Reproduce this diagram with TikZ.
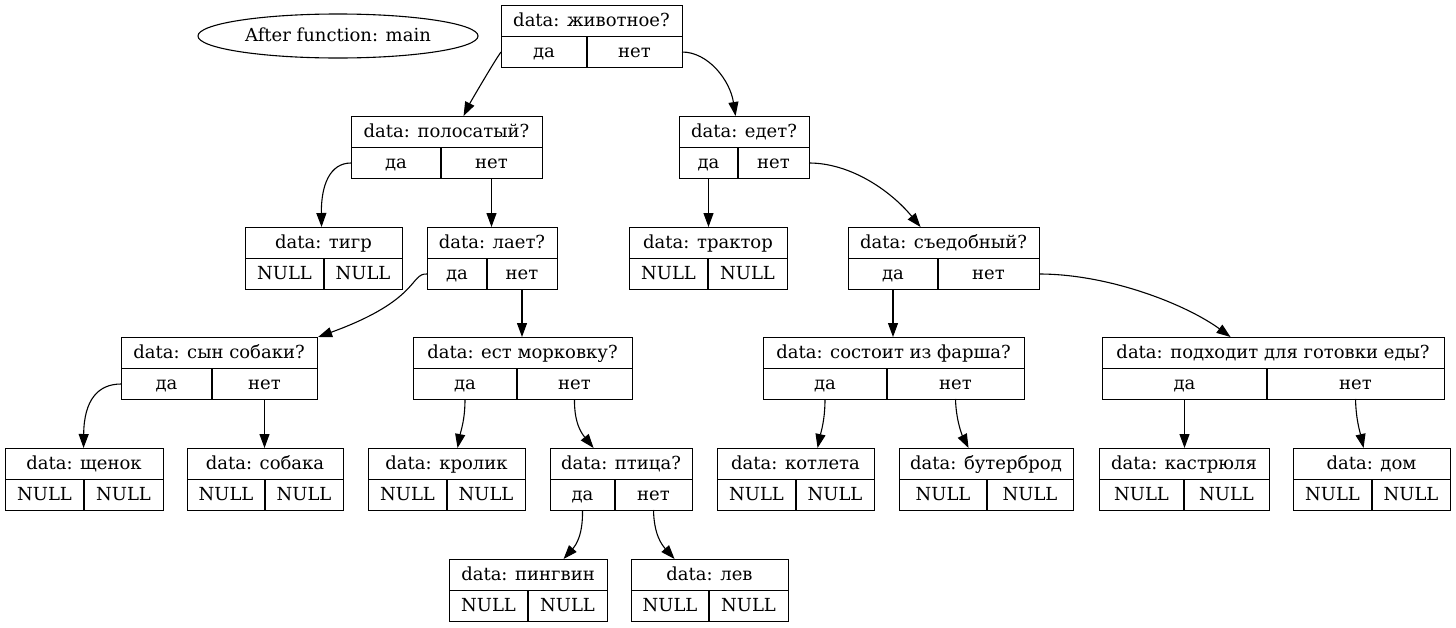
\documentclass[tikz,border=0pt]{standalone}
\usepackage{fontspec}
\setmainfont{DejaVu Serif}
\usetikzlibrary{arrows.meta,shapes.geometric}
\tikzset{
  recbox/.style={draw, line width=1.1pt, inner sep=0pt, anchor=north west},
  recline/.style={line width=1.1pt},
  txt/.style={inner sep=0pt, anchor=base, font=\fontsize{18}{22}\selectfont},
  edge/.style={line width=1.1pt, -{Triangle[length=14pt,width=10pt]}},
  oval/.style={draw, ellipse, line width=1.1pt, minimum width=280pt, minimum height=44pt, inner sep=0pt},
}
% name, x1, y1, x2, splitx, top, left, right
\newcommand\rec[8]{%
  \pgfmathsetmacro\rw{#4-#2}%
  \pgfmathsetmacro\cx{(#2+#4)/2}%
  \pgfmathsetmacro\lx{(#2+#5)/2}%
  \pgfmathsetmacro\rx{(#5+#4)/2}%
  \node[recbox, minimum width=\rw pt, minimum height=62pt] (#1) at (#2,#3) {};
  \draw[recline] (#1.west) -- (#1.east);
  \draw[recline] (#5,#3+31) -- (#5,#3+62);
  \node[txt] (#1-t) at (\cx,#3+21) {#6};
  \node[txt] (#1-a) at (\lx,#3+52) {#7};
  \node[txt] (#1-b) at (\rx,#3+52) {#8};
  \coordinate (#1-w) at (#2,#3+47);
  \coordinate (#1-e) at (#4,#3+47);
  \coordinate (#1-as) at (\lx,#3+62);
  \coordinate (#1-bs) at (\rx,#3+62);
}
\begin{document}
\begin{tikzpicture}[x=1pt,y=-1pt]
\useasboundingbox (0,0) rectangle (1456,627);
\node[oval] (title) at (338,36) {};
\node[txt] (title-t) at (338,41) {After function: main};

\rec{root}{501}{5}{682}{587}{data: животное?}{да}{нет}
\rec{polos}{351}{116}{542}{441}{data: полосатый?}{да}{нет}
\rec{edet}{679}{116}{809}{738}{data: едет?}{да}{нет}
\rec{tigr}{245}{227}{402}{324}{data: тигр}{NULL}{NULL}
\rec{lay}{427}{227}{557}{487}{data: лает?}{да}{нет}
\rec{trakt}{629}{227}{787}{708}{data: трактор}{NULL}{NULL}
\rec{syed}{848}{227}{1039}{938}{data: съедобный?}{да}{нет}
\rec{syn}{121}{337}{317}{212}{data: сын собаки?}{да}{нет}
\rec{est}{413}{337}{632}{517}{data: ест морковку?}{да}{нет}
\rec{sost}{763}{337}{1024}{887}{data: состоит из фарша?}{да}{нет}
\rec{podh}{1102}{337}{1444}{1267}{data: подходит для готовки еды?}{да}{нет}
\rec{schen}{5}{448}{163}{84}{data: щенок}{NULL}{NULL}
\rec{sobak}{187}{448}{343}{265}{data: собака}{NULL}{NULL}
\rec{krol}{368}{448}{525}{447}{data: кролик}{NULL}{NULL}
\rec{ptica}{550}{448}{692}{615}{data: птица?}{да}{нет}
\rec{kotl}{717}{448}{874}{796}{data: котлета}{NULL}{NULL}
\rec{buter}{899}{448}{1073}{987}{data: бутерброд}{NULL}{NULL}
\rec{kastr}{1099}{448}{1269}{1184}{data: кастрюля}{NULL}{NULL}
\rec{dom}{1293}{448}{1450}{1372}{data: дом}{NULL}{NULL}
\rec{ping}{449}{559}{607}{528}{data: пингвин}{NULL}{NULL}
\rec{lev}{631}{559}{788}{709}{data: лев}{NULL}{NULL}

% edges
\draw[edge] (root-w) .. controls (495,60) and (470,103) .. ([xshift=16.5pt]polos.north);
\draw[edge] (root-e) .. controls (708,52) and (730,80) .. ([xshift=-9pt]edet.north);
\draw[edge] (polos-w) .. controls (330,163) and (321,185) .. ([xshift=-2.5pt]tigr.north);
\draw[edge] (polos-bs) -- (polos-bs |- lay.north);
\draw[edge] (edet-as) -- (edet-as |- trakt.north);
\draw[edge] (edet-e) .. controls (850,163) and (890,190) .. ([xshift=-23.5pt]syed.north);
\draw[edge] (lay-w) .. controls (410,273) and (420,300) .. (syn.north east);
\draw[edge] (lay-bs) -- (lay-bs |- est.north);
\draw[edge] (syed-as) -- (syed-as |- sost.north);
\draw[edge] (syed-e) .. controls (1110,274) and (1187,305) .. ([xshift=-43pt]podh.north);
\draw[edge] (syn-w) .. controls (98,384) and (84,400) .. ([xshift=-1pt]schen.north);
\draw[edge] (syn-bs) -- (syn-bs |- sobak.north);
\draw[edge] (est-as) .. controls (465,420) and (461,430) .. ([xshift=10.5pt]krol.north);
\draw[edge] (est-bs) .. controls (574,425) and (583,435) .. ([xshift=-28pt]ptica.north);
\draw[edge] (sost-as) .. controls (825,420) and (821,432) .. ([xshift=21.5pt]kotl.north);
\draw[edge] (sost-bs) .. controls (956,420) and (962,435) .. ([xshift=-18pt]buter.north);
\draw[edge] (podh-as) -- (podh-as |- kastr.north);
\draw[edge] (podh-bs) .. controls (1356,420) and (1360,432) .. ([xshift=-8.5pt]dom.north);
\draw[edge] (ptica-as) .. controls (583,535) and (576,545) .. ([xshift=35pt]ping.north);
\draw[edge] (ptica-bs) .. controls (654,535) and (662,545) .. ([xshift=-35.5pt]lev.north);
\end{tikzpicture}
\end{document}
